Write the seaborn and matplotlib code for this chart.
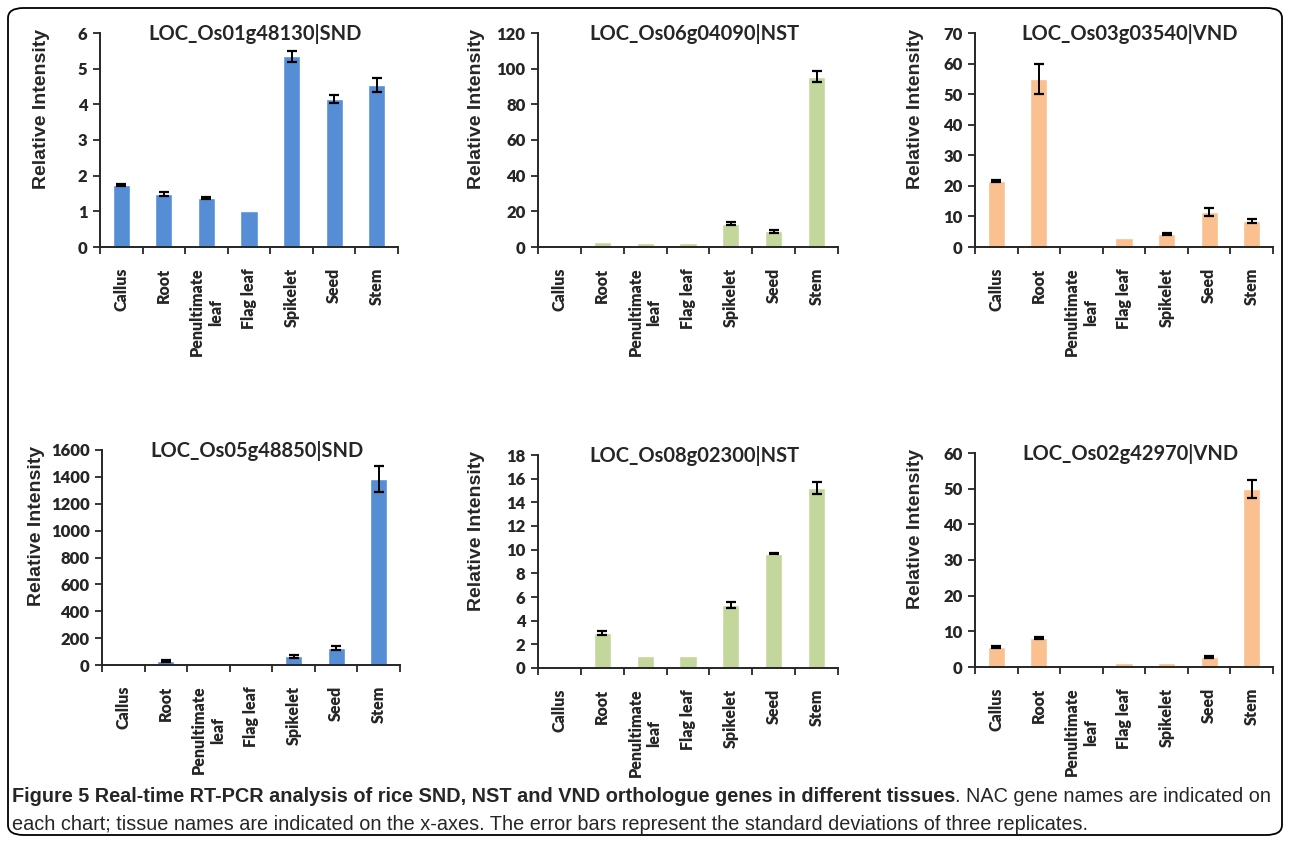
import numpy as np
import matplotlib
matplotlib.use("Agg")
import matplotlib.pyplot as plt
import seaborn as sns
from matplotlib.patches import FancyBboxPatch

sns.set_style("white")
plt.rcParams['font.family'] = ['Lato', 'DejaVu Sans']

tissues = ["Callus", "Root", "Penultimate\nleaf", "Flag leaf", "Spikelet", "Seed", "Stem"]

genes = ["LOC_Os01g48130|SND", "LOC_Os06g04090|NST", "LOC_Os03g03540|VND",
         "LOC_Os05g48850|SND", "LOC_Os08g02300|NST", "LOC_Os02g42970|VND"]

# mean relative intensity per tissue
snd1 = [1.75, 1.48, 1.38, 1.0, 5.35, 4.15, 4.55]
nst1 = [0.5, 2.8, 2.0, 2.0, 13.0, 8.8, 95.5]
vnd1 = [21.5, 55.0, 0.8, 3.0, 4.2, 11.3, 8.5]
snd2 = [0, 30, 0, 0, 65, 130, 1385]
nst2 = [0, 2.95, 1.0, 1.05, 5.35, 9.65, 15.2]
vnd2 = [5.5, 8.2, 0.6, 1.0, 1.0, 2.8, 50.0]

# standard deviations (three replicates), 0 = no bar drawn
snd1_sd = [0.03, 0.05, 0.03, 0, 0.15, 0.1, 0.2]
nst1_sd = [0, 0, 0, 0, 0.8, 0.7, 3.0]
vnd1_sd = [0.4, 4.8, 0, 0, 0.3, 1.3, 0.5]
snd2_sd = [0, 8, 0, 0, 10, 15, 95]
nst2_sd = [0, 0.15, 0, 0, 0.25, 0.05, 0.5]
vnd2_sd = [0.3, 0.3, 0, 0, 0, 0.3, 2.5]

values = [snd1, nst1, vnd1, snd2, nst2, vnd2]
errors = [snd1_sd, nst1_sd, vnd1_sd, snd2_sd, nst2_sd, vnd2_sd]
ymax = [6, 120, 70, 1600, 18, 60]
ystep = [1, 20, 10, 200, 2, 10]

blue = "#558ED5"
green = "#C3D69B"
orange = "#FAC090"
colors = [blue, green, orange, blue, green, orange]

W, H = 1290, 841
fig = plt.figure(figsize=(W / 100, H / 100), dpi=100)

# axes boxes in pixels: left, top, right, bottom
boxes = [(100, 33, 398, 247), (538, 33, 838, 247), (975, 33, 1273, 247),
         (102, 450, 400, 665), (538, 455, 838, 668), (975, 453, 1273, 667)]
label_x = [-0.195, -0.205, -0.2, -0.22, -0.205, -0.2]

for i in range(6):
    l, t, r, b = boxes[i]
    ax = fig.add_axes([l / W, 1 - b / H, (r - l) / W, (b - t) / H])
    sns.barplot(x=tissues, y=values[i], color=colors[i], width=0.4,
                saturation=1, ax=ax, errorbar=None)
    pos = np.arange(7)
    sd = np.array(errors[i])
    keep = sd > 0
    ax.errorbar(pos[keep], np.array(values[i])[keep], yerr=sd[keep], fmt="none",
                ecolor="black", elinewidth=1.4, capsize=3.5, capthick=1.6)
    ax.set_xlim(-0.5, 6.5)
    ax.set_ylim(0, ymax[i])
    ax.set_yticks(np.arange(0, ymax[i] + ystep[i] / 2, ystep[i]))
    ax.set_xticks(np.arange(-0.5, 7, 1), minor=True)
    ax.tick_params(axis="x", which="major", length=0, pad=15)
    ax.tick_params(axis="x", which="minor", length=5, width=1.3, direction="out", bottom=True)
    ax.tick_params(axis="y", length=5, width=1.3, direction="out", left=True, pad=4)
    for lab in ax.get_xticklabels():
        lab.set_rotation(90)
        lab.set_fontweight("heavy")
        lab.set_fontsize(11.5)
        lab.set_va("top")
        lab.set_ha("center")
        lab.set_multialignment("center")
    for lab in ax.get_yticklabels():
        lab.set_fontweight("heavy")
        lab.set_fontsize(12)
    sns.despine(ax=ax)
    ax.spines["left"].set_linewidth(1.4)
    ax.spines["bottom"].set_linewidth(1.4)
    ax.set_xlabel("")
    ax.set_ylabel("Relative Intensity", fontsize=14, fontweight="bold",
                  family=["Liberation Sans", "DejaVu Sans"])
    ax.yaxis.set_label_coords(label_x[i], 0.645)
    ax.yaxis.label.set_va("center")
    ax.text(0.52, 0.995, genes[i], transform=ax.transAxes, ha="center", va="center",
            fontsize=14.5, fontweight="bold")

# rounded outer frame
frame = FancyBboxPatch((8 / W, 6 / H), (W - 16) / W, (H - 14) / H,
                       boxstyle="round,pad=0,rounding_size=0.012",
                       transform=fig.transFigure, fill=False, edgecolor="black",
                       linewidth=1.3)
fig.patches.append(frame)

cap_font = ["Liberation Sans", "DejaVu Sans"]
fig.canvas.draw()
renderer = fig.canvas.get_renderer()
t1 = fig.text(12 / W, 1 - 797 / H, "Figure 5 Real-time RT-PCR analysis of rice SND, NST and VND orthologue genes in different tissues",
              fontsize=14.3, fontweight="bold", family=cap_font, va="center", ha="left")
bb = t1.get_window_extent(renderer=renderer)
fig.text(bb.x1 / W, 1 - 797 / H, ". NAC gene names are indicated on",
         fontsize=14.3, family=cap_font, va="center", ha="left")
fig.text(12 / W, 1 - 825 / H, "each chart; tissue names are indicated on the x-axes. The error bars represent the standard deviations of three replicates.",
         fontsize=14.3, family=cap_font, va="center", ha="left")

fig.savefig("out.png", dpi=100)
